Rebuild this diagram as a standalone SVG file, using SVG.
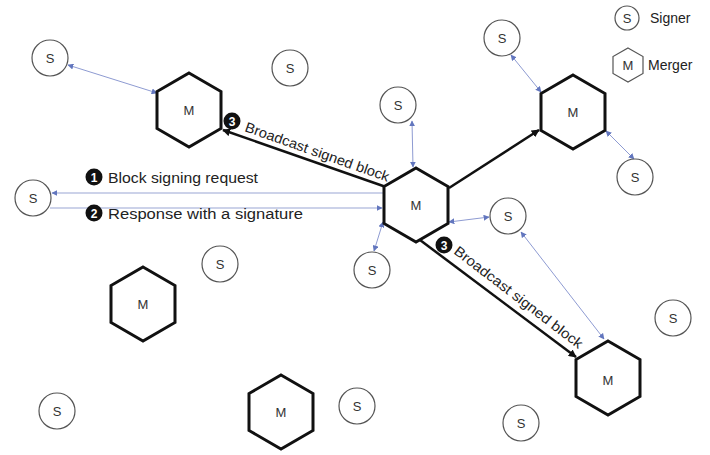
<svg xmlns="http://www.w3.org/2000/svg" width="710" height="455" viewBox="0 0 710 455">
  <style>
    .signer circle { fill: #fff; stroke: #555; stroke-width: 1.2; }
    .merger use { fill: #fff; stroke: #111; stroke-width: 3; stroke-linejoin: miter; }
    .lbl { font-family: "Liberation Sans", Arial, sans-serif; font-size: 13px; fill: #333; text-anchor: middle; dominant-baseline: central; }
    .txt { font-family: "Liberation Sans", Arial, sans-serif; font-size: 14px; fill: #222; }
    .badge circle { fill: #111; }
    .badge text { font-family: "Liberation Sans", Arial, sans-serif; font-size: 12px; font-weight: bold; fill: #fff; text-anchor: middle; dominant-baseline: central; }
    .link { stroke: #8e9bd2; stroke-width: 1; fill: none; marker-start: url(#tipBlue); marker-end: url(#tipBlue); }
    .msg { stroke: #9aa6d4; stroke-width: 1.2; fill: none; marker-end: url(#tipBlue); }
    .cast { stroke: #111; stroke-width: 2.5; fill: none; marker-end: url(#tipBlack); }
  </style>
  <defs>
    <marker id="tipBlue" viewBox="0 0 10 10" refX="9" refY="5" markerWidth="6" markerHeight="6" markerUnits="userSpaceOnUse" orient="auto-start-reverse">
      <path d="M0,0 L10,5 L0,10 z" fill="#6276be"/>
    </marker>
    <marker id="tipBlack" viewBox="0 0 10 10" refX="9" refY="5" markerWidth="8" markerHeight="8" markerUnits="userSpaceOnUse" orient="auto">
      <path d="M0,0 L10,5 L0,10 z" fill="#111"/>
    </marker>
    <polygon id="hex" points="0,-37 32,-18.5 32,18.5 0,37 -32,18.5 -32,-18.5"/>
  </defs>

  <rect width="710" height="455" fill="#fff"/>

  <!-- connectors -->
  <g id="connectors">
    <line class="link" x1="68" y1="65" x2="157" y2="93"/>
    <line class="link" x1="412" y1="121" x2="413" y2="167"/>
    <line class="link" x1="511" y1="55" x2="541" y2="92"/>
    <line class="link" x1="606" y1="131" x2="634" y2="159"/>
    <line class="link" x1="449" y1="222" x2="489" y2="217"/>
    <line class="link" x1="521" y1="232" x2="604" y2="339"/>
    <line class="link" x1="383" y1="222" x2="374" y2="251"/>
    <line class="msg" x1="383" y1="193" x2="52" y2="193"/>
    <line class="msg" x1="50" y1="208" x2="382" y2="208"/>
    <line class="cast" x1="386" y1="187" x2="223" y2="130"/>
    <line class="cast" x1="449" y1="188" x2="539" y2="130"/>
    <line class="cast" x1="420" y1="240" x2="576" y2="357"/>
  </g>

  <!-- connector labels -->
  <g id="labels">
    <g class="badge"><circle cx="94" cy="177" r="8.5"/><text x="94" y="177.5">1</text></g>
    <text class="txt" x="108" y="183" textLength="150" lengthAdjust="spacingAndGlyphs">Block signing request</text>
    <g class="badge"><circle cx="94" cy="213" r="8.5"/><text x="94" y="213.5">2</text></g>
    <text class="txt" x="108" y="219" textLength="195" lengthAdjust="spacingAndGlyphs">Response with a signature</text>
    <g class="badge"><circle cx="232" cy="121" r="8.5"/><text x="232" y="121.5">3</text></g>
    <text class="txt" transform="translate(244,131) rotate(19.5)" textLength="152" lengthAdjust="spacingAndGlyphs">Broadcast signed block</text>
    <g class="badge"><circle cx="444" cy="245" r="8.5"/><text x="444" y="245.5">3</text></g>
    <text class="txt" transform="translate(453,253) rotate(37.5)" textLength="158" lengthAdjust="spacingAndGlyphs">Broadcast signed block</text>
  </g>

  <!-- mergers -->
  <g id="merger-top-left" class="merger"><use href="#hex" x="189" y="110"/><text class="lbl" x="189" y="110">M</text></g>
  <g id="merger-center" class="merger"><use href="#hex" x="416" y="205"/><text class="lbl" x="416" y="205">M</text></g>
  <g id="merger-top-right" class="merger"><use href="#hex" x="573" y="112"/><text class="lbl" x="573" y="112">M</text></g>
  <g id="merger-bottom-right" class="merger"><use href="#hex" x="608" y="378"/><text class="lbl" x="608" y="380">M</text></g>
  <g id="merger-left" class="merger"><use href="#hex" x="143" y="304"/><text class="lbl" x="143" y="304">M</text></g>
  <g id="merger-bottom" class="merger"><use href="#hex" x="281" y="412"/><text class="lbl" x="281" y="412">M</text></g>

  <!-- signers -->
  <g id="signer-1" class="signer"><circle cx="50" cy="58" r="18"/><text class="lbl" x="50" y="58">S</text></g>
  <g id="signer-2" class="signer"><circle cx="290" cy="68" r="18"/><text class="lbl" x="290" y="68">S</text></g>
  <g id="signer-3" class="signer"><circle cx="502" cy="38" r="18"/><text class="lbl" x="502" y="38">S</text></g>
  <g id="signer-4" class="signer"><circle cx="398" cy="105" r="18"/><text class="lbl" x="398" y="105">S</text></g>
  <g id="signer-5" class="signer"><circle cx="635" cy="177" r="18"/><text class="lbl" x="635" y="177">S</text></g>
  <g id="signer-6" class="signer"><circle cx="33" cy="198" r="18"/><text class="lbl" x="33" y="198">S</text></g>
  <g id="signer-7" class="signer"><circle cx="508" cy="216" r="18"/><text class="lbl" x="508" y="216">S</text></g>
  <g id="signer-8" class="signer"><circle cx="372" cy="270" r="18"/><text class="lbl" x="372" y="270">S</text></g>
  <g id="signer-9" class="signer"><circle cx="220" cy="264" r="18"/><text class="lbl" x="220" y="264">S</text></g>
  <g id="signer-10" class="signer"><circle cx="673" cy="318" r="18"/><text class="lbl" x="673" y="318">S</text></g>
  <g id="signer-11" class="signer"><circle cx="57" cy="411" r="18"/><text class="lbl" x="57" y="411">S</text></g>
  <g id="signer-12" class="signer"><circle cx="357" cy="406" r="18"/><text class="lbl" x="357" y="406">S</text></g>
  <g id="signer-13" class="signer"><circle cx="521" cy="423" r="18"/><text class="lbl" x="521" y="423">S</text></g>

  <!-- legend -->
  <g id="legend-signer" class="signer"><circle cx="627" cy="18" r="12"/><text class="lbl" x="627" y="18">S</text><text class="txt" x="650" y="23" font-size="13">Signer</text></g>
  <g id="legend-merger"><polygon points="628,48 643,56.5 643,73.5 628,82 613,73.5 613,56.5" fill="#fff" stroke="#555" stroke-width="1.2"/><text class="lbl" x="628" y="65">M</text><text class="txt" x="648" y="70" font-size="13">Merger</text></g>
</svg>
